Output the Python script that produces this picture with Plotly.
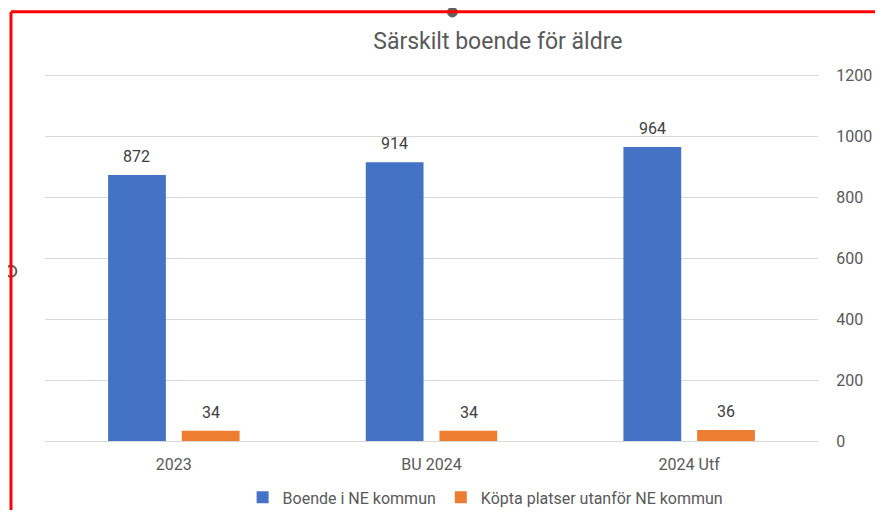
import plotly.graph_objects as go

categories = ['2023', 'BU 2024', '2024 Utf']
boende_ne = [872, 914, 964]
kopta_platser = [34, 34, 36]
series_names = ['Boende i NE kommun', 'Köpta platser utanför NE kommun']
series_colors = ['#4472C4', '#ED7D31']
y_ticks = [0, 200, 400, 600, 800, 1000, 1200]

text_color = '#595959'
grid_color = '#d9d9d9'
font_family = 'Roboto, Noto Sans, sans-serif'

fig = go.Figure()
for name, vals, col in zip(series_names, [boende_ne, kopta_platser], series_colors):
    fig.add_trace(go.Bar(x=categories, y=vals, name=name,
                         marker=dict(color=col, line=dict(width=0))))

# data labels sit a bit above each bar, like the Excel original
# (x given as category index: '2023' would be read as index 2023)
for shift, vals in zip([-37, 37], [boende_ne, kopta_platser]):
    for i, v in enumerate(vals):
        fig.add_annotation(x=i, y=v, xref='x', yref='y', text=str(v),
                           showarrow=False, xshift=shift, yshift=7, yanchor='bottom',
                           font=dict(size=16, color='#404040', family=font_family))

fig.update_layout(
    width=867, height=502,
    plot_bgcolor='white', paper_bgcolor='white',
    font=dict(family=font_family, size=16, color=text_color),
    title=dict(text='Särskilt boende för äldre', x=0.565, xanchor='center',
               y=0.934, yanchor='middle', font=dict(size=23, color=text_color)),
    barmode='group', bargap=0.428, bargroupgap=0.216,
    margin=dict(l=37, r=57, t=64, b=69, autoexpand=False),
    xaxis=dict(type='category', showgrid=False, showline=True, linecolor=grid_color, linewidth=1,
               ticks='outside', ticklen=9, tickcolor='rgba(0,0,0,0)',
               tickfont=dict(size=16, color=text_color)),
    # upper bound a little above 1200 so the top gridline is still drawn
    yaxis=dict(side='right', range=[0, 1210], tickvals=y_ticks,
               showgrid=True, gridcolor=grid_color, gridwidth=1, zeroline=False,
               showline=False, ticks='outside', ticklen=14, tickcolor='rgba(0,0,0,0)',
               tickfont=dict(size=16, color=text_color)),
    legend=dict(orientation='h', x=0.57, xanchor='center', y=-0.153, yanchor='middle',
                font=dict(size=16, color=text_color), traceorder='normal'),
    showlegend=True,
)

# red selection frame and handles of the screenshot
fig.add_shape(type='circle', xref='paper', yref='paper', x0=0.52, x1=0.534, y0=1.148, y1=1.176,
              fillcolor='#606060', line=dict(width=0), layer='below')
fig.add_shape(type='line', xref='paper', yref='paper', x0=-0.044, x1=1.1, y0=1.163, y1=1.163,
              line=dict(color='#ff0000', width=3))
fig.add_shape(type='line', xref='paper', yref='paper', x0=-0.044, x1=-0.044, y0=1.163, y1=-0.25,
              line=dict(color='#ff0000', width=3))
fig.add_shape(type='circle', xref='paper', yref='paper', x0=-0.051, x1=-0.037, y0=0.445, y1=0.475,
              line=dict(color='#606060', width=2), layer='below')

fig.write_html('out.html')
